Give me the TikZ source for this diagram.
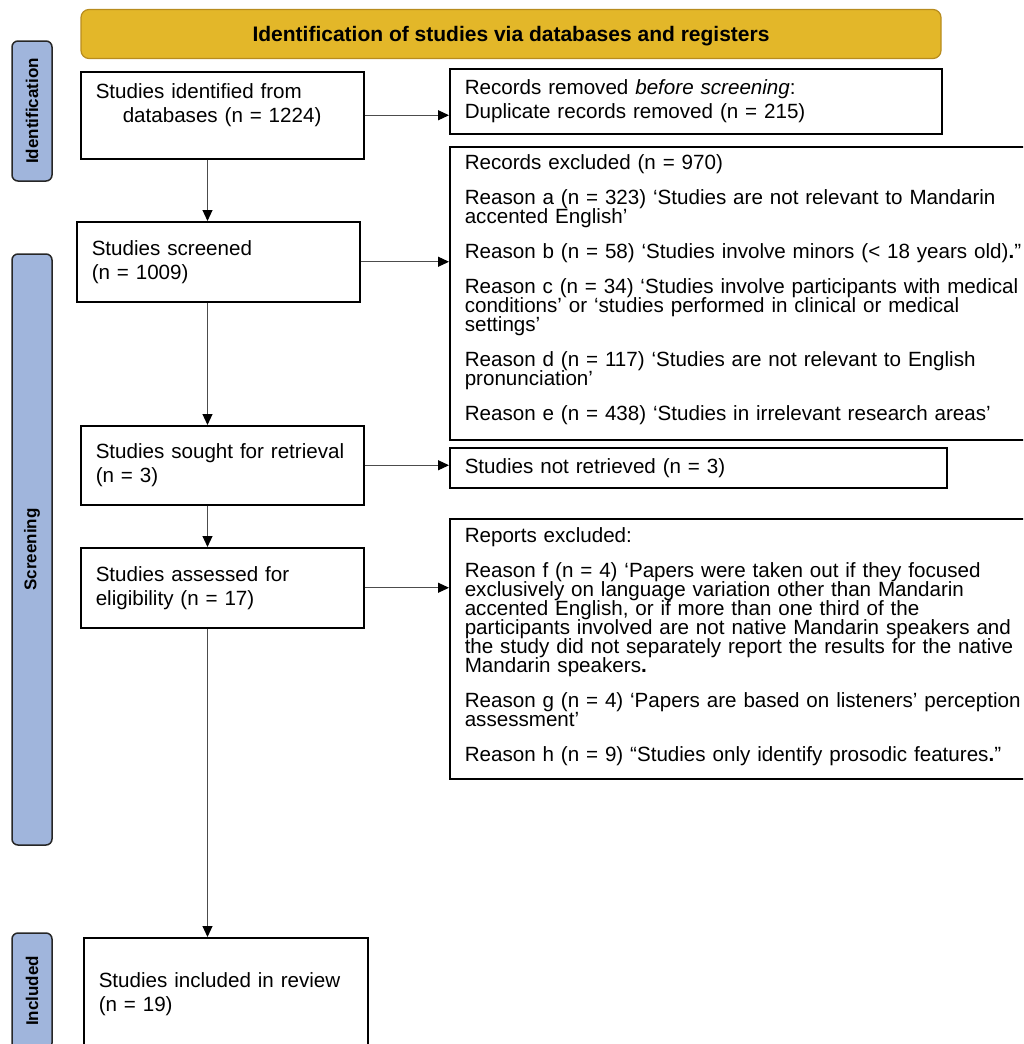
\documentclass[tikz,border=0pt]{standalone}
\usepackage{fontspec}
\setmainfont{Liberation Sans}
\usetikzlibrary{arrows.meta,positioning}
\newcommand\boxfont{\fontsize{20.6}{24}\selectfont\hyphenpenalty10000\relax}
\newcommand\reasonfont{\fontsize{20.6}{19}\selectfont\lineskiplimit-20pt\relax\hyphenpenalty10000\relax}
\newcommand\lift[1]{\rule[-#1]{0pt}{0pt}}
\tikzstyle{box}=[draw=black,line width=1.5pt,anchor=north west,align=left,inner xsep=15pt,inner ysep=0pt,font=\boxfont]
\tikzstyle{reasonbox}=[box,font=\reasonfont]
\tikzstyle{side}=[draw=black!85,line width=1.5pt,fill=sideblue,rounded corners=6pt,rotate=90,minimum height=40pt,inner sep=0pt,font=\fontsize{17}{17}\selectfont\bfseries]
\tikzstyle{head}=[draw=headedge,fill=headgold,line width=1.2pt,rounded corners=8pt,inner sep=0pt,text height=15pt,text depth=1pt,font=\fontsize{21}{21}\selectfont\bfseries]
\tikzstyle{arr}=[draw=black!70,line width=1.1pt,-{Triangle[length=11pt,width=10pt,color=black]}]
\definecolor{headgold}{RGB}{227,183,41}
\definecolor{headedge}{RGB}{184,140,30}
\definecolor{sideblue}{RGB}{160,181,220}

\begin{document}
\begin{tikzpicture}[x=1pt,y=-1pt]
\useasboundingbox (0,0) rectangle (1023,1044);
\clip (0,0) rectangle (1023,1044);
\draw (511,34) node [head,minimum width=860pt,minimum height=49pt] (head) {Identification of studies via databases and registers};
\draw (32,111) node [side,minimum width=140pt] (sideid) {Identification};
\draw (32,549.5) node [side,minimum width=591pt] (sidescr) {Screening};
\draw (32,991) node [side,minimum width=116pt] (sideinc) {Included};
\draw (80,71) node [box,text width=253pt,minimum height=87pt] (b1) {Studies identified from\\\hspace*{27pt}databases (n = 1224)\\ \mbox{}};
\draw (76,221) node [box,text width=253pt,minimum height=80pt] (b2) {Studies screened\\(n = 1009)};
\draw (80,425) node [box,text width=253pt,minimum height=79pt] (b3) {Studies sought for retrieval\\(n = 3)};
\draw (80,547) node [box,text width=253pt,minimum height=80pt] (b4) {Studies assessed for\\eligibility (n = 17)};
\draw (83,937) node [box,text width=254pt,minimum height=112pt] (b5) {Studies included in review\\(n = 19)};
\draw (449,68) node [box,text width=462pt,minimum height=65pt] (r1) {Records removed \textit{before screening}:\\Duplicate records removed (n = 215)};
\draw (449,146) node [reasonbox,text width=580pt,minimum height=293pt] (r2) {Records excluded (n = 970)\\[16pt]
Reason a (n = 323) ‘Studies are not relevant to Mandarin\\accented English’\\[16pt]
Reason b (n = 58) ‘Studies involve minors (< 18 years old)\textbf{.}”\\[16pt]
Reason c (n = 34) ‘Studies involve participants with medical\\conditions’ or ‘studies performed in clinical or medical\\settings’\\[16pt]
Reason d (n = 117) ‘Studies are not relevant to English\\pronunciation’\\[16pt]
Reason e (n = 438) ‘Studies in irrelevant research areas’\lift{12pt}};
\draw (449,447) node [box,text width=467pt,minimum height=40pt] (r3) {Studies not retrieved (n = 3)};
\draw (449,518) node [reasonbox,text width=580pt,minimum height=260pt] (r4) {Reports excluded:\\[16pt]
Reason f (n = 4) ‘Papers were taken out if they focused\\exclusively on language variation other than Mandarin\\accented English, or if more than one third of the\\participants involved are not native Mandarin speakers and\\the study did not separately report the results for the native\\Mandarin speakers\textbf{.}\\[16pt]
Reason g (n = 4) ‘Papers are based on listeners’ perception\\assessment’\\[16pt]
Reason h (n = 9) “Studies only identify prosodic features\textbf{.}”\lift{8pt}};
\coordinate (spine) at (207.5,0);
\draw[arr] (b1.south -| spine) -- (b2.north -| spine);
\draw[arr] (b2.south -| spine) -- (b3.north -| spine);
\draw[arr] (b3.south -| spine) -- (b4.north -| spine);
\draw[arr] (b4.south -| spine) -- (b5.north -| spine);
\draw[arr] (b1.east) -- (b1.east -| r1.west);
\draw[arr] (b2.east) -- (b2.east -| r2.west);
\draw[arr] (b3.east) -- (b3.east -| r3.west);
\draw[arr] (b4.east) -- (b4.east -| r4.west);
\end{tikzpicture}
\end{document}
